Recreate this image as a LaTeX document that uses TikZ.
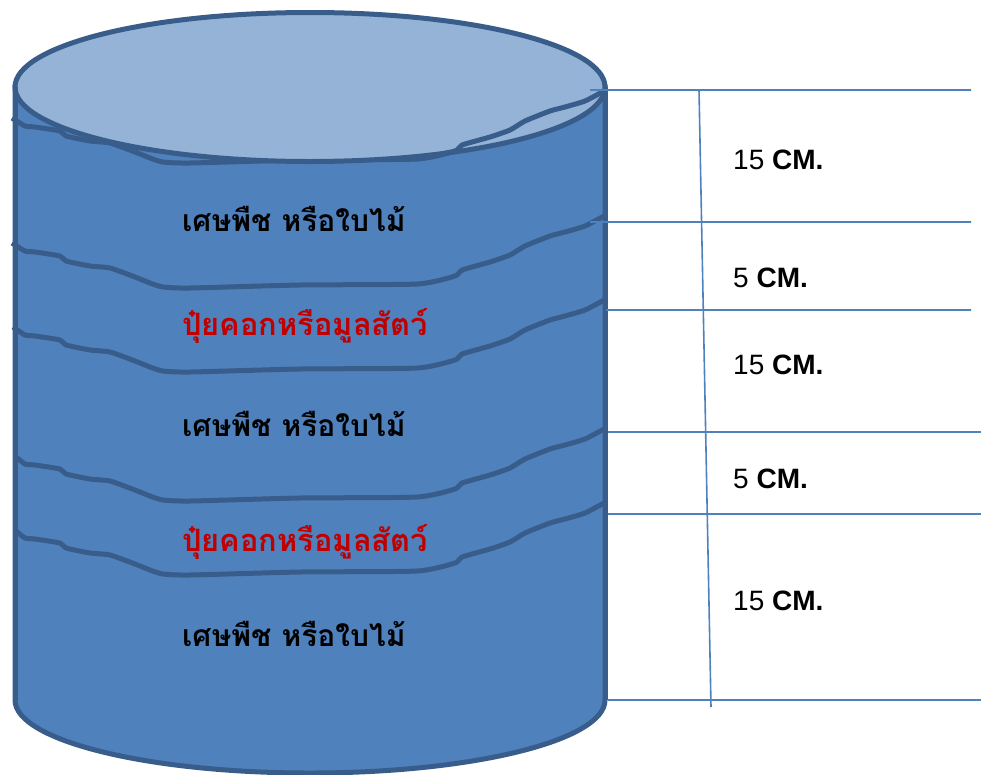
\documentclass[tikz,border=0pt]{standalone}
\usepackage{fontspec}
\setmainfont{Liberation Sans}
\newfontfamily\thaifont[Script=Thai]{Loma}
\definecolor{bodyblue}{HTML}{4F81BD}
\definecolor{topblue}{HTML}{95B3D7}
\definecolor{edgeblue}{HTML}{385D8A}
\definecolor{thaired}{HTML}{C00000}
\tikzset{
  edgeline/.style={draw=edgeblue,line width=5pt},
  wave/.style={edgeblue,line width=5pt,line join=round},
  dimline/.style={draw=bodyblue,line width=1.6pt},
  thaitext/.style={anchor=west,inner sep=0pt,font=\thaifont\fontsize{30}{34}\selectfont\bfseries},
  thairedtext/.style={anchor=west,inner sep=0pt,text=thaired,font=\thaifont\fontsize{30.8}{34}\selectfont\bfseries},
  sizetext/.style={anchor=west,inner sep=0pt,font=\fontsize{28}{32}\selectfont},
}
\newcommand{\layerwave}[2]{%
  \draw[wave,yshift=-#1pt] plot[smooth,tension=0.35] coordinates {
   (#2,0)(25,8)(35,9)(60,13)(66,18)(90,23)(110,25)(135,34)(150,40)(163,44)(190,45)(300,42)(417,41)(455,33)(462,27)(490,19)(510,12)(525,3)(550,-7)(565,-11)(585,-17)(604,-27)};}
\begin{document}
\begin{tikzpicture}[x=1pt,y=-1pt]
\useasboundingbox (0,0) rectangle (981,774);
% cylinder
\path[edgeline,fill=bodyblue] (15,87) -- (15,700) arc[start angle=180,end angle=0,x radius=295,y radius=73] -- (605,87) -- cycle;
\layerwave{118}{12}
\path[edgeline,fill=topblue] (310,87) ellipse[x radius=295,y radius=74.5];
\draw[wave] plot[smooth,tension=0.35] coordinates {(417,159)(455,151)(462,145)(490,137)(510,130)(525,121)(550,111)(565,107)(585,101)(604,91)};
\layerwave{243}{12}
\layerwave{327}{13}
\layerwave{456}{15}
\layerwave{530}{15}
\path[edgeline] (15,87) -- (15,700) (605,87) -- (605,700);
% dimension lines
\coordinate (h1a) at (590,90); \coordinate (h1b) at (971,90);
\coordinate (h2a) at (590,222); \coordinate (h2b) at (971,222);
\coordinate (h3a) at (606,310); \coordinate (h3b) at (971,310);
\coordinate (h4a) at (608,432); \coordinate (h4b) at (981,432);
\coordinate (h5a) at (608,514); \coordinate (h5b) at (981,514);
\coordinate (h6a) at (608,700); \coordinate (h6b) at (981,700);
\coordinate (va) at (699,90); \coordinate (vb) at (711,707);
\draw[dimline] (h1a)--(h1b) (h2a)--(h2b) (h3a)--(h3b) (h4a)--(h4b) (h5a)--(h5b) (h6a)--(h6b) (va)--(vb);
% texts
\node[thaitext] (t1) at (182,219) {เศษพืช หรือใบไม้};
\node[thairedtext] (t2) at (182,326) {ปุ๋ยคอกหรือมูลสัตว์};
\node[thaitext] (t3) at (182,424) {เศษพืช หรือใบไม้};
\node[thairedtext] (t4) at (182,542) {ปุ๋ยคอกหรือมูลสัตว์};
\node[thaitext] (t5) at (182,634) {เศษพืช หรือใบไม้};
\node[sizetext] (s1) at (733,160) {15 \textbf{CM.}};
\node[sizetext] (s2) at (733,278) {5 \textbf{CM.}};
\node[sizetext] (s3) at (733,365) {15 \textbf{CM.}};
\node[sizetext] (s4) at (733,479) {5 \textbf{CM.}};
\node[sizetext] (s5) at (733,601) {15 \textbf{CM.}};
\end{tikzpicture}
\end{document}
